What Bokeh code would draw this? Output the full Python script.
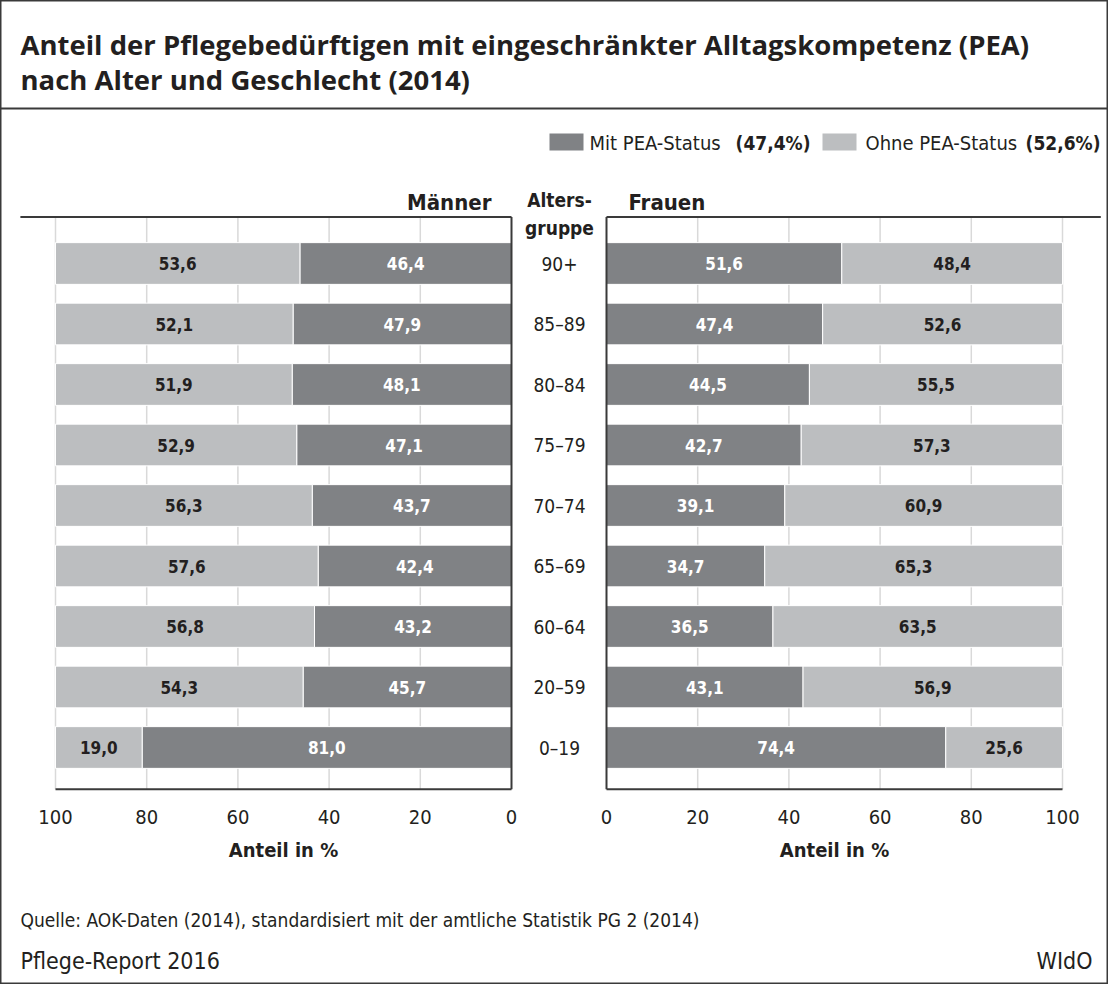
from bokeh.plotting import figure
from bokeh.models import Range1d
from bokeh.core.properties import value
from bokeh.embed import file_html
from bokeh.resources import INLINE

# ---------------- data ----------------
ages = ["0–19", "20–59", "60–64", "65–69", "70–74", "75–79", "80–84", "85–89", "90+"]
men_mit = [81.0, 45.7, 43.2, 42.4, 43.7, 47.1, 48.1, 47.9, 46.4]
men_ohne = [19.0, 54.3, 56.8, 57.6, 56.3, 52.9, 51.9, 52.1, 53.6]
women_mit = [74.4, 43.1, 36.5, 34.7, 39.1, 42.7, 44.5, 47.4, 51.6]
women_ohne = [25.6, 56.9, 63.5, 65.3, 60.9, 57.3, 55.5, 52.6, 48.4]
ticks = [0, 20, 40, 60, 80, 100]
tick_labels = ["0", "20", "40", "60", "80", "100"]

title_lines = ["Anteil der Pflegebedürftigen mit eingeschränkter Alltagskompetenz (PEA)",
               "nach Alter und Geschlecht (2014)"]
legend_names = ["Mit PEA-Status", "Ohne PEA-Status"]
legend_totals = ["(47,4%)", "(52,6%)"]
source_text = "Quelle: AOK-Daten (2014), standardisiert mit der amtliche Statistik PG 2 (2014)"

# ---------------- styles ----------------
DARK = "#808285"
LIGHT = "#bcbec0"
INK = "#231f20"
GRID = "#d9d9d9"
AXIS = "#3a3a3a"
NARROW = value("DejaVu Sans Condensed")
WIDE = value("Open Sans")

W, H = 1108, 984
X0, Y0 = 8, 8  # page offset of the canvas


def rng(v0, p0, v1, p1, lo, hi):
    k = (v1 - v0) / (p1 - p0)
    return Range1d(start=v0 + (lo - p0) * k, end=v0 + (hi - p0) * k)


p = figure(width=W, height=H, output_backend="svg", toolbar_location=None,
           x_axis_type=None, y_axis_type=None,
           x_range=Range1d(X0, X0 + W), y_range=Range1d(Y0 + H, Y0),
           min_border=0, min_border_left=0, min_border_right=0,
           min_border_top=0, min_border_bottom=0)
p.grid.visible = False
p.outline_line_color = AXIS
p.outline_line_width = 2
p.background_fill_color = "white"

# extra scales for the two panels and the age index
p.extra_x_ranges = {
    "men": rng(0, 519, 100, 63, X0, X0 + W),
    "women": rng(0, 614, 100, 1070, X0, X0 + W),
}
p.extra_y_ranges = {"cats": rng(0, 755, 8, 271, Y0 + H, Y0)}

idx = list(range(len(ages)))
YLO, YHI = -0.69, 8.77
BAR_H = 0.69

# ---------- gridlines ----------
for rn in ["men", "women"]:
    gt = [t for t in ticks if t > 0]
    p.segment(x0=gt, x1=gt, y0=[YLO] * len(gt), y1=[YHI] * len(gt),
              x_range_name=rn, y_range_name="cats", line_color=GRID, line_width=1.5)

# ---------- bars ----------
common = dict(y_range_name="cats", height=BAR_H, line_color="white", line_width=1)
p.hbar(y=idx, left=0, right=men_mit, x_range_name="men", fill_color=DARK, **common)
p.hbar(y=idx, left=men_mit, right=[m + o for m, o in zip(men_mit, men_ohne)],
       x_range_name="men", fill_color=LIGHT, **common)
p.hbar(y=idx, left=0, right=women_mit, x_range_name="women", fill_color=DARK, **common)
p.hbar(y=idx, left=women_mit, right=[m + o for m, o in zip(women_mit, women_ohne)],
       x_range_name="women", fill_color=LIGHT, **common)


def fmt(v):
    return f"{v:.1f}".replace(".", ",")


lab = dict(y_range_name="cats", text_align="center", text_baseline="middle",
           text_font=NARROW, text_font_style="bold", text_font_size="17px")
p.text(x=[m / 2 for m in men_mit], y=idx, text=[fmt(v) for v in men_mit],
       x_range_name="men", text_color="white", **lab)
p.text(x=[m + o / 2 for m, o in zip(men_mit, men_ohne)], y=idx,
       text=[fmt(v) for v in men_ohne], x_range_name="men", text_color=INK, **lab)
p.text(x=[m / 2 for m in women_mit], y=idx, text=[fmt(v) for v in women_mit],
       x_range_name="women", text_color="white", **lab)
p.text(x=[m + o / 2 for m, o in zip(women_mit, women_ohne)], y=idx,
       text=[fmt(v) for v in women_ohne], x_range_name="women", text_color=INK, **lab)

# ---------- axis lines ----------
ax = dict(y_range_name="cats", line_color=AXIS, line_width=2)
p.segment(x0=[0, 0, 0], x1=[0, 100, 107.7], y0=[YLO, YLO, YHI], y1=[YHI, YLO, YHI],
          x_range_name="men", **ax)
p.segment(x0=[0, 0, 0], x1=[0, 100, 108.4], y0=[YLO, YLO, YHI], y1=[YHI, YLO, YHI],
          x_range_name="women", **ax)

# ---------- tick labels & axis titles ----------
for rn in ["men", "women"]:
    p.text(x=ticks, y=[YLO] * len(ticks), text=tick_labels, x_range_name=rn,
           y_range_name="cats", text_align="center", text_baseline="alphabetic", y_offset=28,
           text_font=NARROW, text_font_size="20px", text_color=INK)
    p.text(x=[50], y=[YLO], text=["Anteil in %"], x_range_name=rn, y_range_name="cats",
           text_align="center", text_baseline="middle", y_offset=61,
           text_font=NARROW, text_font_style="bold", text_font_size="20px", text_color=INK)

# ---------- age group labels ----------
p.text(x=[567] * len(ages), y=idx, text=ages, y_range_name="cats",
       text_align="center", text_baseline="middle", text_font=NARROW,
       text_font_size="19px", text_color=INK)

# ---------- headers ----------
hdr = dict(text_baseline="alphabetic", text_font=NARROW, text_font_style="bold", text_color=INK)
p.text(x=[499], y=[210], text=["Männer"], text_align="right", text_font_size="22px", **hdr)
p.text(x=[636], y=[210], text=["Frauen"], text_align="left", text_font_size="22px", **hdr)
p.text(x=[567, 567], y=[207, 235], text=["Alters-", "gruppe"], text_align="center",
       text_font_size="19px", **hdr)

# ---------- title ----------
p.text(x=[28, 28], y=[52, 87], text=title_lines, text_align="left",
       text_baseline="alphabetic",
       text_font=WIDE, text_font_style="bold", text_font_size="27.5px", text_color=INK)
p.segment(x0=[X0], x1=[X0 + W], y0=[116], y1=[116], line_color=AXIS, line_width=2)

# ---------- legend ----------
p.quad(left=[557, 830], right=[591, 864], top=[141, 141], bottom=[158, 158],
       fill_color=[DARK, LIGHT], line_color=None)
p.text(x=[597, 873], y=[150, 150], text=legend_names, text_align="left",
       text_baseline="middle", text_font=NARROW, text_font_size="20px", text_color=INK)
p.text(x=[818, 1108], y=[150, 150], text=legend_totals, text_align="right",
       text_baseline="middle", text_font=NARROW, text_font_style="bold",
       text_font_size="19px", text_color=INK)

# ---------- footer ----------
p.text(x=[28], y=[927], text=[source_text], text_align="left", text_baseline="alphabetic",
       text_font=NARROW, text_font_size="19px", text_color=INK)
p.text(x=[28], y=[968], text=["Pflege-Report 2016"], text_align="left",
       text_baseline="alphabetic", text_font=NARROW, text_font_size="23px", text_color=INK)
p.text(x=[1100], y=[968], text=["WIdO"], text_align="right",
       text_baseline="alphabetic", text_font=NARROW, text_font_size="23px", text_color=INK)

open("out.html", "w").write(file_html(p, INLINE))
